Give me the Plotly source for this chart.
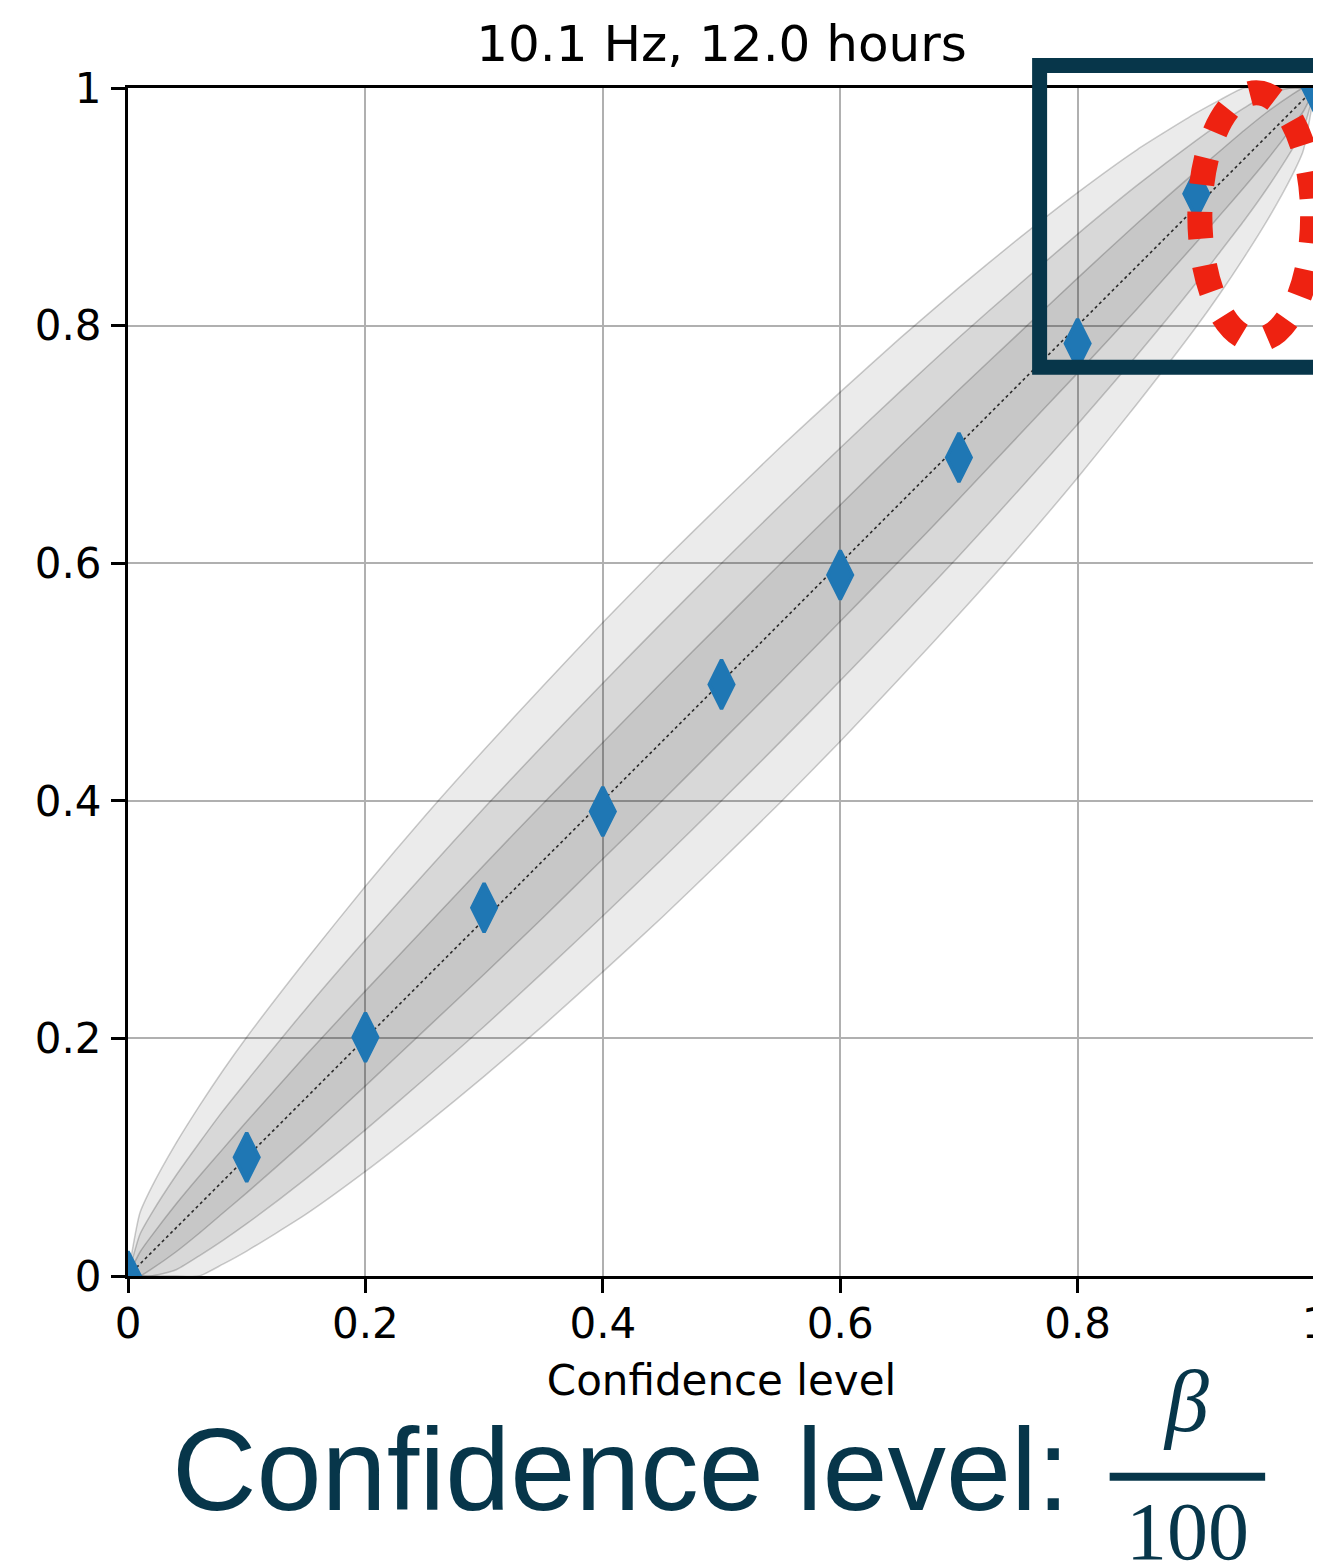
import plotly.graph_objects as go

# ---------------- data ----------------
conf_level = [0.0, 0.1, 0.2, 0.3, 0.4, 0.5, 0.6, 0.7, 0.8, 0.9, 1.0]
found_frac = [0.0, 0.100, 0.201, 0.310, 0.391, 0.498, 0.590, 0.689, 0.785, 0.911, 1.0]

band_x = [0.0, 0.01, 0.02, 0.04, 0.06, 0.08, 0.10, 0.15, 0.20, 0.25, 0.30, 0.35, 0.40, 0.45,
          0.50, 0.55, 0.60, 0.65, 0.70, 0.75, 0.80, 0.85, 0.90, 0.92, 0.94, 0.96, 0.98, 0.99, 1.0]
# 1-sigma band
lo1 = [0.0, 0.000, 0.006, 0.020, 0.036, 0.053, 0.070, 0.114, 0.160, 0.207, 0.254, 0.302, 0.351, 0.400,
       0.450, 0.500, 0.551, 0.602, 0.654, 0.707, 0.760, 0.814, 0.870, 0.893, 0.916, 0.940, 0.966, 0.980, 1.0]
up1 = [0.0, 0.020, 0.034, 0.060, 0.084, 0.107, 0.130, 0.186, 0.240, 0.293, 0.346, 0.398, 0.449, 0.500,
       0.550, 0.600, 0.649, 0.698, 0.746, 0.793, 0.840, 0.886, 0.930, 0.947, 0.964, 0.980, 0.994, 1.000, 1.0]
# 2-sigma band
lo2 = [0.0, 0.000, 0.000, 0.005, 0.017, 0.030, 0.044, 0.082, 0.123, 0.166, 0.210, 0.256, 0.303, 0.351,
       0.400, 0.450, 0.501, 0.553, 0.606, 0.661, 0.717, 0.775, 0.836, 0.862, 0.888, 0.916, 0.947, 0.965, 1.0]
up2 = [0.0, 0.035, 0.053, 0.084, 0.112, 0.139, 0.164, 0.225, 0.283, 0.339, 0.394, 0.447, 0.499, 0.550,
       0.600, 0.649, 0.697, 0.744, 0.790, 0.834, 0.877, 0.918, 0.956, 0.970, 0.983, 0.995, 1.000, 1.000, 1.0]
# 3-sigma band
lo3 = [0.0, 0.000, 0.000, 0.000, 0.000, 0.010, 0.021, 0.052, 0.088, 0.127, 0.168, 0.211, 0.256, 0.302,
       0.350, 0.399, 0.450, 0.503, 0.557, 0.613, 0.672, 0.734, 0.799, 0.827, 0.857, 0.889, 0.925, 0.947, 1.0]
up3 = [0.0, 0.053, 0.075, 0.111, 0.143, 0.173, 0.201, 0.266, 0.328, 0.387, 0.443, 0.497, 0.550, 0.601,
       0.650, 0.698, 0.744, 0.789, 0.832, 0.873, 0.912, 0.948, 0.979, 0.990, 1.000, 1.000, 1.000, 1.000, 1.0]

diag = [0.0, 1.0]
tick_vals = [0.0, 0.2, 0.4, 0.6, 0.8, 1.0]
tick_text = ["0", "0.2", "0.4", "0.6", "0.8", "1"]

title_text = "10.1 Hz, 12.0 hours"
xlabel_text = "Confidence level"

# ---------------- styles ----------------
MPL_FONT = "DejaVu Sans"
DARK = "#07364a"
RED = "#ee2211"
BLUE = "#1f77b4"
FILL = "rgba(0,0,0,0.08)"
EDGE = "rgba(0,0,0,0.2)"

fig = go.Figure()

for lo, up in [(lo3, up3), (lo2, up2), (lo1, up1)]:
    fig.add_trace(go.Scatter(x=band_x, y=lo, mode="lines",
                             line=dict(color=EDGE, width=1.5, shape="spline", smoothing=0.6),
                             hoverinfo="skip", showlegend=False))
    fig.add_trace(go.Scatter(x=band_x, y=up, mode="lines", fill="tonexty", fillcolor=FILL,
                             line=dict(color=EDGE, width=1.5, shape="spline", smoothing=0.6),
                             hoverinfo="skip", showlegend=False))

fig.add_trace(go.Scatter(x=diag, y=diag, mode="lines",
                         line=dict(color="rgba(0,0,0,0.8)", width=1.6, dash="dot"),
                         showlegend=False))

fig.add_trace(go.Scatter(x=conf_level, y=found_frac, mode="markers",
                         marker=dict(symbol="diamond-tall", size=35, color=BLUE,
                                     line=dict(color=BLUE, width=3.5)),
                         showlegend=False))

axis_common = dict(
    range=[0, 1], tickmode="array", tickvals=tick_vals, ticktext=tick_text,
    showgrid=True, gridcolor="#b0b0b0", gridwidth=2, zeroline=False,
    showline=True, linecolor="black", linewidth=3, mirror=True,
    ticks="outside", ticklen=14, tickwidth=3, tickcolor="black",
    tickfont=dict(family=MPL_FONT, size=42, color="black"),
    automargin=False, ticklabeloverflow="allow",
)

fig.update_xaxes(**axis_common, ticklabelstandoff=-5,
                 title=dict(text=xlabel_text, font=dict(family=MPL_FONT, size=42, color="black"),
                            standoff=19))
fig.update_yaxes(**axis_common, ticklabelstandoff=1)

# page body has an 8px margin, so the figure is sized/offset to compensate
fig.update_layout(
    width=1313, height=1556,
    margin=dict(l=120, r=6, t=80, b=288, autoexpand=False),
    plot_bgcolor="white", paper_bgcolor="white",
    showlegend=False,
    title=dict(text=title_text, font=dict(family=MPL_FONT, size=50, color="black"),
               x=0.5, xref="paper", xanchor="center", y=1 - 35 / 1556, yref="container",
               yanchor="middle"),
)

# highlight rectangle and ellipse
fig.add_shape(type="rect", xref="paper", yref="paper", x0=0.768, x1=1.06, y0=0.765, y1=1.019,
              line=dict(color=DARK, width=15), fillcolor="rgba(0,0,0,0)", layer="above")
fig.add_shape(type="circle", xref="paper", yref="paper", x0=0.903, x1=0.998, y0=0.788, y1=0.996,
              line=dict(color=RED, width=25, dash="27px,27px"), fillcolor="rgba(0,0,0,0)", layer="above")

# big caption "Confidence level: β/100"
fig.add_annotation(text="Confidence level:", xref="paper", yref="paper", x=0.0355, y=-0.163,
                   xanchor="left", yanchor="middle", showarrow=False,
                   font=dict(family="Liberation Sans", size=117, color=DARK))
fig.add_annotation(text="<i>β</i>", xref="paper", yref="paper", x=0.891, y=-0.106,
                   xanchor="center", yanchor="middle", showarrow=False,
                   font=dict(family="Liberation Serif", size=88, color=DARK))
fig.add_annotation(text="100", xref="paper", yref="paper", x=0.893, y=-0.215,
                   xanchor="center", yanchor="middle", showarrow=False,
                   font=dict(family="Liberation Serif", size=82, color=DARK))
fig.add_shape(type="line", xref="paper", yref="paper", x0=0.827, x1=0.958, y0=-0.169, y1=-0.169,
              line=dict(color=DARK, width=8))

fig.write_html("out.html")
